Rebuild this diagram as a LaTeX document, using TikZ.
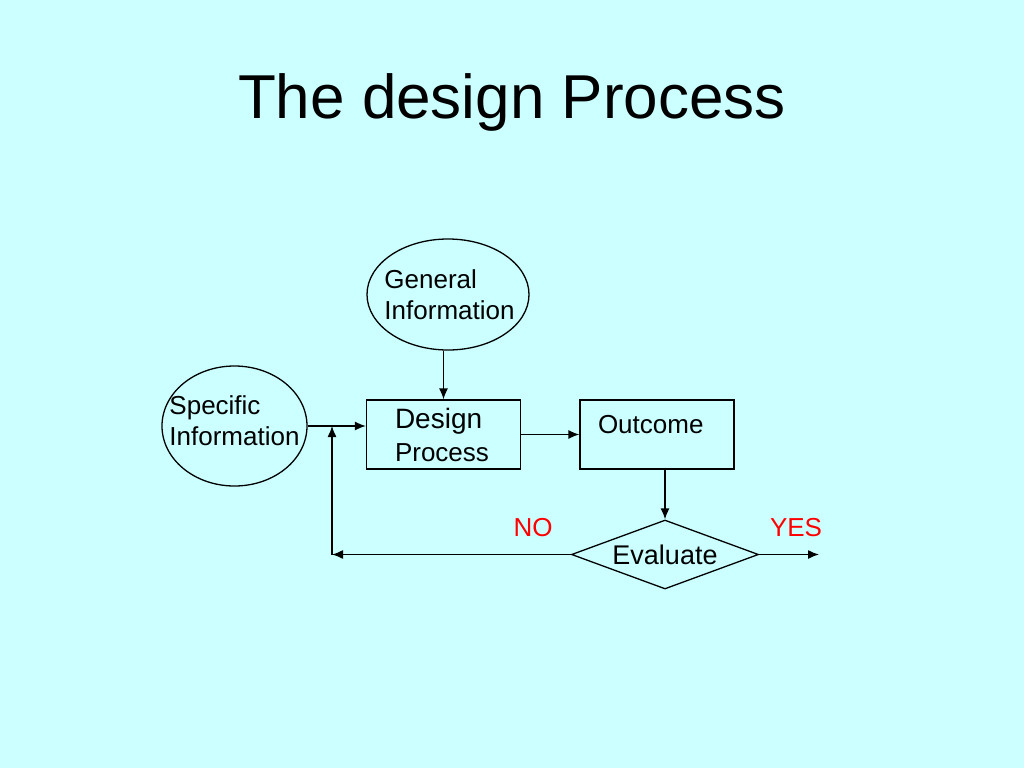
\documentclass[tikz,border=0pt]{standalone}
\usepackage{fontspec}
\setmainfont{Liberation Sans}
\usetikzlibrary{shapes.geometric,arrows.meta}
\definecolor{slidebg}{RGB}{204,255,255}
\definecolor{answer}{RGB}{255,0,0}

\begin{document}
\begin{tikzpicture}[x=1pt, y=-1pt, line width=1.3pt,
          every node/.style = {inner sep=0pt, align=left,
          font=\fontsize{26}{31}\selectfont},
          flow/.style = {-{Latex[length=11pt,width=9pt]}}]
          \tikzstyle{source}=[ellipse, draw, inner xsep=-16pt]
          \tikzstyle{stage}=[rectangle, draw, minimum width=154pt, minimum height=69pt]
        \fill[slidebg] (0,0) rectangle (1024,768);
        \node[font=\fontsize{62}{74}\selectfont] (title) at (512,102) {The design Process};
        % inputs
        \node[source, minimum width=162pt, minimum height=111pt] (general) at (448,294.5)
          {\hspace*{3pt}General\\\hspace*{3pt}Information};
        \node[source, minimum width=145pt, minimum height=120pt, text depth=10pt] (specific)
          at (234.5,426) {Specific\\Information};
        % boxes
        \node[stage, text width=97pt, font=\fontsize{26}{33}\selectfont] (design) at (443.5,434.5)
          {{\fontsize{28}{33}\selectfont Design}\\Process};
        \node[stage, text width=118pt, text depth=21pt] (outcome) at (657,434.5) {Outcome};
        \node[diamond, draw, aspect=2.7, minimum width=187pt, minimum height=69pt,
          font=\fontsize{27}{32}\selectfont] (eval) at (665,554.5) {Evaluate};
        \node[text=answer] (no) at (533,528) {NO};
        \node[text=answer] (yes) at (796,528) {YES};
        \coordinate (loop) at (332,554.5);
        \coordinate (done) at (819,554.5);
        % connectors
        \draw[flow] (design.north |- general.south) -- (design.north);
        \draw[flow] (specific.east) -- (specific.east -| design.west);
        \draw[flow] (design.east) -- (outcome.west);
        \draw[flow] (eval.north |- outcome.south) -- (eval.north);
        \draw[flow] (eval.west) -- (loop);
        \draw[flow] (loop) -- (loop |- specific.east);
        \draw[flow] (eval.east) -- (done);
      \end{tikzpicture}
\end{document}
